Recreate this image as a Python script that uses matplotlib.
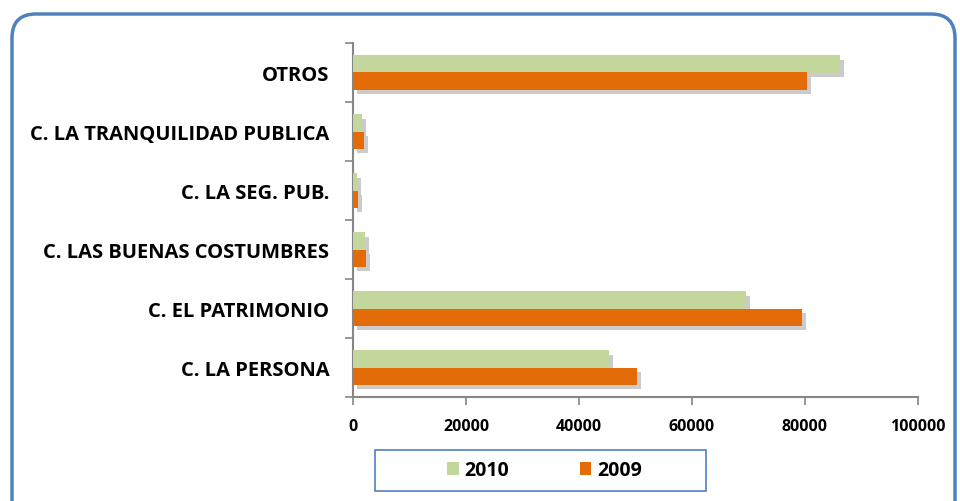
import matplotlib.pyplot as plt
import matplotlib.patheffects as pe
from matplotlib.patches import FancyBboxPatch, Patch, Rectangle
import numpy as np

# data (bottom to top)
categories = ['C. LA PERSONA', 'C. EL PATRIMONIO', 'C. LAS BUENAS COSTUMBRES',
              'C. LA SEG. PUB.', 'C. LA TRANQUILIDAD PUBLICA', 'OTROS']
values_2010 = [45300, 69600, 2100, 700, 1600, 86200]
values_2009 = [50200, 79500, 2300, 800, 1900, 80300]
x_ticks = [0, 20000, 40000, 60000, 80000, 100000]

green = '#C3D69B'
orange = '#E36C09'
blue = '#4F81BD'
axis_gray = '#868686'

plt.rcParams['font.family'] = ['Open Sans', 'DejaVu Sans']

fig = plt.figure(figsize=(9.6, 5.02), dpi=100)

# background axes in pixel units, for the rounded frame and legend box
bg = fig.add_axes([0, 0, 1, 1], zorder=-5)
bg.set_xlim(0, 960)
bg.set_ylim(502, 0)
bg.axis('off')
bg.add_patch(FancyBboxPatch((12, 15), 943, 560,
                            boxstyle='round,pad=0,rounding_size=24',
                            facecolor='white', edgecolor=blue, linewidth=2.5))
bg.add_patch(Rectangle((375, 451), 331, 41, facecolor='white',
                       edgecolor=blue, linewidth=1.2))

ax = fig.add_axes([353 / 960, 1 - 398 / 502, 565 / 960, 354 / 502])
ax.set_facecolor('none')

y = np.arange(len(categories))
h = 0.29
shadow = [pe.SimplePatchShadow(offset=(3, -3), shadow_rgbFace='#8c8c8c', alpha=0.45), pe.Normal()]
ax.barh(y + h / 2, values_2010, height=h, color=green, label='2010', path_effects=shadow, zorder=3)
ax.barh(y - h / 2, values_2009, height=h, color=orange, label='2009', path_effects=shadow, zorder=3)

ax.set_xlim(0, 100000)
ax.set_ylim(-0.5, len(categories) - 0.5)
ax.set_xticks(x_ticks)
ax.set_xticklabels([str(v) for v in x_ticks], fontsize=11.5, fontweight='bold')
ax.set_yticks(y)
ax.set_yticklabels(categories, fontsize=14.5, fontweight='bold')
ax.set_yticks(np.arange(-0.5, len(categories), 1), minor=True)
ax.tick_params(axis='y', which='major', length=0, pad=17)
ax.tick_params(axis='y', which='minor', length=6, color=axis_gray, width=1.2)
ax.tick_params(axis='x', length=6, color=axis_gray, width=1.2, pad=9)

for s in ['top', 'right']:
    ax.spines[s].set_visible(False)
for s in ['left', 'bottom']:
    ax.spines[s].set_color(axis_gray)
    ax.spines[s].set_linewidth(1.5)

handles = [Patch(facecolor=green, label='2010'), Patch(facecolor=orange, label='2009')]
leg = fig.legend(handles=handles, loc='center', ncol=2,
                 bbox_to_anchor=((375 + 331 / 2 + 4) / 960, 1 - (492 - 20.5) / 502),
                 frameon=False, prop={'weight': 'bold', 'size': 14},
                 handlelength=0.6, handleheight=0.6, handletextpad=0.3,
                 columnspacing=3.6)

fig.savefig('out.png', dpi=100)
